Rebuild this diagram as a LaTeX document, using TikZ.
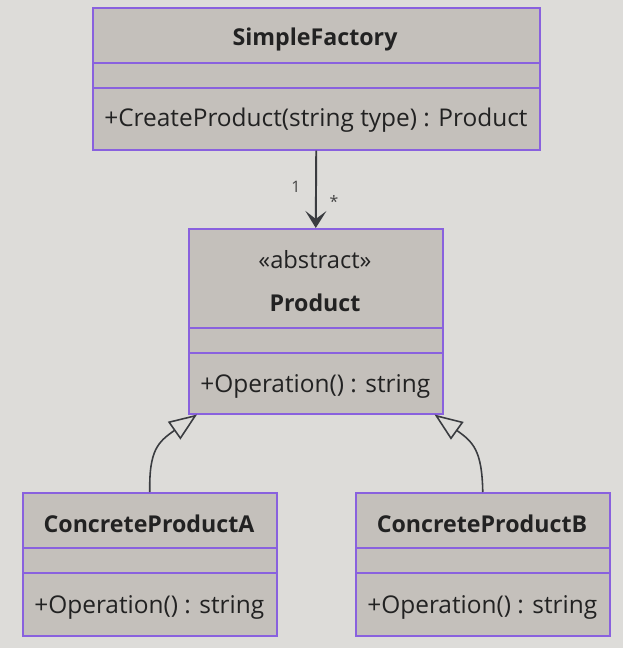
\documentclass[tikz,border=0pt]{standalone}
\usepackage{fontspec}
\setmainfont{Open Sans}
\usetikzlibrary{arrows.meta, calc}
\definecolor{canvas}{RGB}{221,220,217}
\definecolor{boxfill}{RGB}{196,192,187}
\definecolor{boxline}{RGB}{137,97,222}
\definecolor{ink}{RGB}{34,34,34}
\definecolor{wire}{RGB}{58,60,64}

\begin{document}
\begin{tikzpicture}[
    x=0.02cm, y=-0.02cm,
    classbox/.style={rectangle, draw=boxline, fill=boxfill, line width=0.9pt, anchor=north west, inner sep=0pt},
    title/.style={font=\fontsize{13.2}{15}\selectfont\bfseries, text=ink},
    stereo/.style={font=\fontsize{13.5}{15}\selectfont, text=ink},
    member/.style={font=\fontsize{13.9}{16}\selectfont, text=ink, anchor=west, inner sep=0pt},
    divider/.style={draw=boxline, line width=0.9pt},
    mult/.style={font=\fontsize{9}{10}\selectfont, text=ink!85},
    assoc/.style={-{Stealth[length=3.4mm, width=4.2mm, inset=1.6mm]}, draw=wire, fill=wire, line width=1.1pt},
    inherit/.style={-{Triangle[open, length=5.6mm, width=4.3mm, fill=canvas]}, draw=wire, line width=0.9pt},
]

% canvas
\fill[canvas] (0,0) rectangle (623,648);

% classes
\node[classbox, minimum width=8.94cm, minimum height=2.84cm] (factory) at (92,7) {};
\node[classbox, minimum width=5.08cm, minimum height=3.70cm] (product) at (188,228) {};
\node[classbox, minimum width=5.08cm, minimum height=2.86cm] (prodA) at (22,492) {};
\node[classbox, minimum width=5.08cm, minimum height=2.86cm] (prodB) at (355,492) {};

% compartments
\draw[divider] (92,63) -- (539,63);
\draw[divider] (92,88) -- (539,88);
\draw[divider] (188,328) -- (442,328);
\draw[divider] (188,353) -- (442,353);
\draw[divider] (22,548) -- (276,548);
\draw[divider] (22,573) -- (276,573);
\draw[divider] (355,548) -- (609,548);
\draw[divider] (355,573) -- (609,573);

% texts
\node[title] (factoryname) at (315,39) {SimpleFactory};
\node[member] (factoryop) at (104,120) {+CreateProduct(string type) : Product};
\node[stereo] (productstereo) at (315,260) {«abstract»};
\node[title] (productname) at (315,303) {Product};
\node[member] (productop) at (200,386) {+Operation() : string};
\node[title] (prodAname) at (149,524) {ConcreteProductA};
\node[member] (prodAop) at (34,607) {+Operation() : string};
\node[title] (prodBname) at (482,524) {ConcreteProductB};
\node[member] (prodBop) at (367,607) {+Operation() : string};

% relations
\draw[assoc] (factory.south) -- (product.north);
\node[mult] (multone) at (296,187) {1};
\node[mult] (multmany) at (334,201) {*};

\draw[inherit] (prodA.north) .. controls (149,450) and (158,442) .. ($(product.south west)+(9,0)$);
\draw[inherit] (prodB.north) .. controls (482,450) and (473,442) .. ($(product.south east)+(-9,0)$);

\end{tikzpicture}
\end{document}
